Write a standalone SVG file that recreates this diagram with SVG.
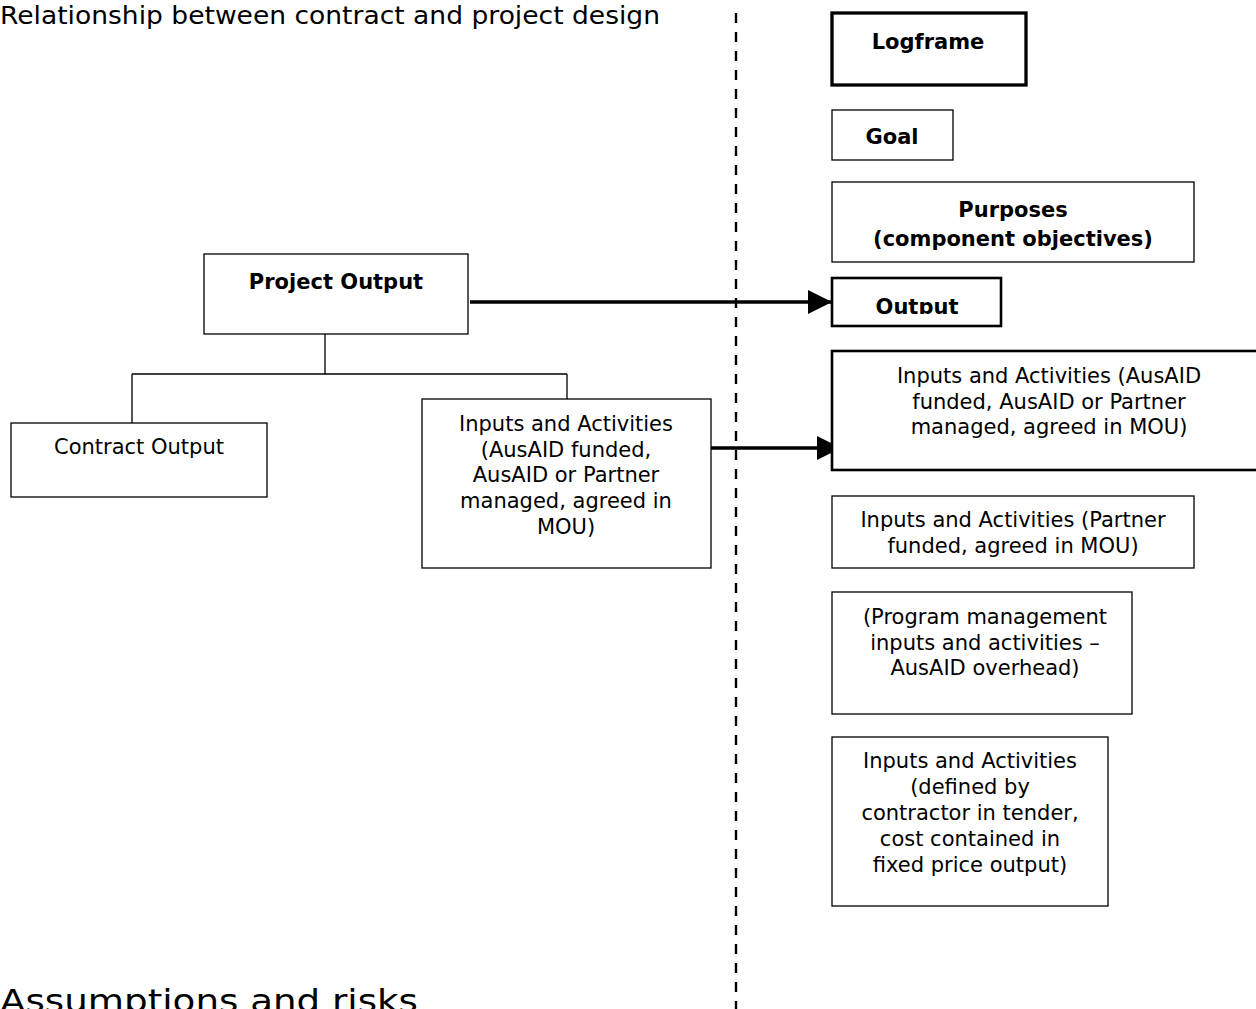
<svg xmlns="http://www.w3.org/2000/svg" width="1256" height="1009" viewBox="0 0 1256 1009">
<style>
  text { font-family: "DejaVu Sans", Verdana, sans-serif; font-size: 21px; fill: #000; }
  .c { text-anchor: middle; }
  .b { font-weight: bold; }
  .box { fill: #fff; stroke: #000; stroke-width: 1.3; }
  .thick { stroke-width: 3.3; }
  .med { stroke-width: 2.6; }
  .conn { fill: none; stroke: #000; stroke-width: 1.3; }
  .arrow { fill: none; stroke: #000; stroke-width: 3.5; }
  .title { font-size: 25px; }
</style>
<defs>
  <marker id="ah" markerWidth="7" markerHeight="7" refX="7" refY="3.5" orient="auto" markerUnits="strokeWidth" viewBox="0 0 7 7">
    <path d="M0,0 L7,3.5 L0,7 Z" fill="#000"/>
  </marker>
  <clipPath id="outclip"><rect x="832" y="278" width="170" height="36"/></clipPath>
</defs>

<text id="title" x="0" y="24" class="title" textLength="660" lengthAdjust="spacingAndGlyphs">Relationship between contract and project design</text>
<text id="assumptions" x="0" y="1012" style="font-size:32px" textLength="418" lengthAdjust="spacingAndGlyphs">Assumptions and risks</text>

<line id="divider" x1="736" y1="13" x2="736" y2="1009" stroke="#000" stroke-width="2.4" stroke-dasharray="10,9"/>

<g id="connectors">
  <path class="conn" d="M325,334 V374 M132,374 H567 M132,374 V423 M567,374 V399"/>
  <line class="arrow" x1="470" y1="302" x2="832" y2="302" marker-end="url(#ah)"/>
  <line class="arrow" x1="711" y1="448" x2="841" y2="448" marker-end="url(#ah)"/>
</g>

<g id="logframe">
  <rect class="box thick" x="832" y="13" width="194" height="72"/>
  <text class="c b" x="928" y="49">Logframe</text>
</g>
<g id="goal">
  <rect class="box" x="832" y="110" width="121" height="50"/>
  <text class="c b" x="892" y="144">Goal</text>
</g>
<g id="purposes">
  <rect class="box" x="832" y="182" width="362" height="80"/>
  <text class="c b" x="1013" y="217">Purposes</text>
  <text class="c b" x="1013" y="246">(component objectives)</text>
</g>
<g id="output">
  <rect class="box med" x="832" y="278" width="169" height="48"/>
  <text class="c b" x="917" y="314" clip-path="url(#outclip)">Output</text>
</g>
<g id="inputs-ausaid-right">
  <rect class="box med" x="832" y="351" width="430" height="119"/>
  <text class="c" x="1049" y="383">Inputs and Activities (AusAID</text>
  <text class="c" x="1049" y="409">funded, AusAID or Partner</text>
  <text class="c" x="1049" y="434">managed, agreed in MOU)</text>
</g>
<g id="inputs-partner">
  <rect class="box" x="832" y="496" width="362" height="72"/>
  <text class="c" x="1013" y="527">Inputs and Activities (Partner</text>
  <text class="c" x="1013" y="553">funded, agreed in MOU)</text>
</g>
<g id="program-management">
  <rect class="box" x="832" y="592" width="300" height="122"/>
  <text class="c" x="985" y="624">(Program management</text>
  <text class="c" x="985" y="650">inputs and activities –</text>
  <text class="c" x="985" y="675">AusAID overhead)</text>
</g>
<g id="inputs-contractor">
  <rect class="box" x="832" y="737" width="276" height="169"/>
  <text class="c" x="970" y="768">Inputs and Activities</text>
  <text class="c" x="970" y="794">(defined by</text>
  <text class="c" x="970" y="820">contractor in tender,</text>
  <text class="c" x="970" y="846">cost contained in</text>
  <text class="c" x="970" y="872">fixed price output)</text>
</g>

<g id="project-output">
  <rect class="box" x="204" y="254" width="264" height="80"/>
  <text class="c b" x="336" y="289">Project Output</text>
</g>
<g id="contract-output">
  <rect class="box" x="11" y="423" width="256" height="74"/>
  <text class="c" x="139" y="454">Contract Output</text>
</g>
<g id="inputs-ausaid-left">
  <rect class="box" x="422" y="399" width="289" height="169"/>
  <text class="c" x="566" y="431">Inputs and Activities</text>
  <text class="c" x="566" y="457">(AusAID funded,</text>
  <text class="c" x="566" y="482">AusAID or Partner</text>
  <text class="c" x="566" y="508">managed, agreed in</text>
  <text class="c" x="566" y="534">MOU)</text>
</g>
</svg>
